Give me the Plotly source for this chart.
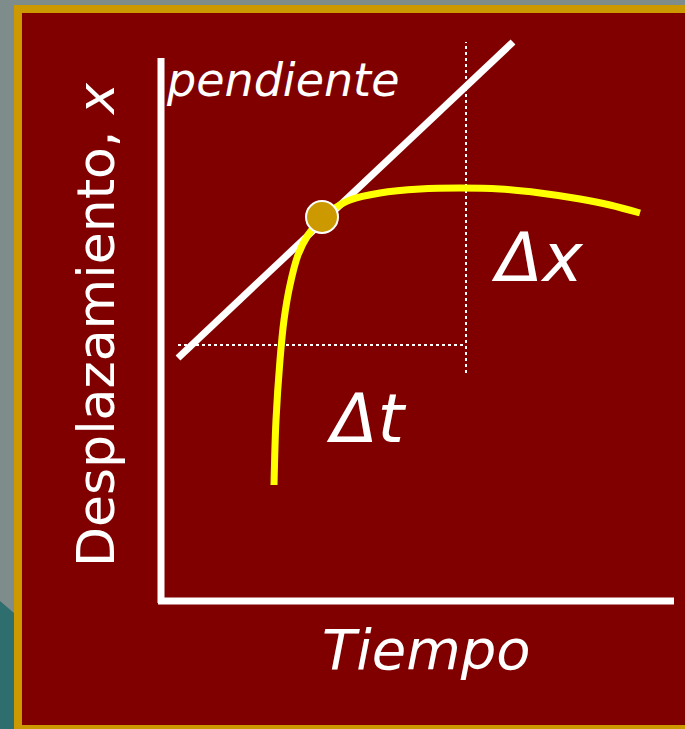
import plotly.graph_objects as go

# Data coordinates: time (t) on x, displacement (x) on y, origin at axes corner
curve_t = [2.26, 2.30, 2.38, 2.46, 2.58, 2.74, 2.94, 3.22, 3.48, 3.78, 4.38, 5.18, 5.98, 6.78, 7.58, 8.38, 8.98, 9.58]
curve_x = [2.32, 3.62, 4.82, 5.62, 6.32, 6.92, 7.32, 7.66, 7.86, 8.02, 8.16, 8.24, 8.26, 8.24, 8.16, 8.04, 7.92, 7.76]

tangent_t = [0.34, 7.04]
tangent_x = [4.86, 11.18]

point_t = [3.22]
point_x = [7.68]

dt_t = [0.34, 6.10]
dt_x = [5.12, 5.12]
dx_t = [6.10, 6.10]
dx_x = [4.56, 11.18]

axis_h_t = [-0.06, 10.26]
axis_h_x = [0.0, 0.0]
axis_v_t = [0.0, 0.0]
axis_v_x = [-0.04, 10.86]

RED = "#800000"
GOLD = "#CC9900"
YELLOW = "#FFFF00"
WHITE = "#FFFFFF"
FONT = "DejaVu Sans"

fig = go.Figure()

# axes
fig.add_trace(go.Scatter(x=axis_h_t, y=axis_h_x, mode="lines", line=dict(color=WHITE, width=7)))
fig.add_trace(go.Scatter(x=axis_v_t, y=axis_v_x, mode="lines", line=dict(color=WHITE, width=7)))
# dotted guides
fig.add_trace(go.Scatter(x=dt_t, y=dt_x, mode="lines", line=dict(color=WHITE, width=2, dash="dot")))
fig.add_trace(go.Scatter(x=dx_t, y=dx_x, mode="lines", line=dict(color=WHITE, width=2, dash="dot")))
# tangent
fig.add_trace(go.Scatter(x=tangent_t, y=tangent_x, mode="lines", line=dict(color=WHITE, width=7)))
# curve
fig.add_trace(go.Scatter(x=curve_t, y=curve_x, mode="lines", line=dict(color=YELLOW, width=7, shape="spline", smoothing=1.0)))
# point
fig.add_trace(go.Scatter(x=point_t, y=point_x, mode="markers",
                         marker=dict(size=32, color=GOLD, line=dict(color=WHITE, width=2))))

# background panels
shapes = [
    dict(type="rect", xref="paper", yref="paper", x0=0, x1=1, y0=0, y1=1, fillcolor="#7F8C8C", line_width=0, layer="below"),
    dict(type="path", xref="paper", yref="paper",
         path="M 0 0.1756 L 0.0204 0.1591 L 0.0204 0 L 0 0 Z", fillcolor="#2E6E6E", line_width=0, layer="below"),
    dict(type="rect", xref="paper", yref="paper", x0=0.0204, x1=1.01, y0=-0.01, y1=0.9931, fillcolor=GOLD, line_width=0, layer="below"),
    dict(type="rect", xref="paper", yref="paper", x0=0.0321, x1=1.01, y0=0.0055, y1=0.9822, fillcolor=RED, line_width=0, layer="below"),
]

annotations = [
    dict(x=0.06, y=10.42, text="<i>pendiente</i>", showarrow=False, xanchor="left", yanchor="middle",
         font=dict(family=FONT, size=46, color=WHITE)),
    dict(x=7.52, y=6.88, text="<i>Δx</i>", showarrow=False, xanchor="center", yanchor="middle",
         font=dict(family=FONT, size=68, color=WHITE)),
    dict(x=4.10, y=3.66, text="<i>Δt</i>", showarrow=False, xanchor="center", yanchor="middle",
         font=dict(family=FONT, size=68, color=WHITE)),
    dict(x=5.30, y=-0.96, text="<i>Tiempo</i>", showarrow=False, xanchor="center", yanchor="middle",
         font=dict(family=FONT, size=56, color=WHITE)),
    dict(x=-1.30, y=5.52, text="Desplazamiento, <i>x</i>", showarrow=False, xanchor="center", yanchor="middle",
         textangle=-90, font=dict(family=FONT, size=52, color=WHITE)),
]

fig.update_layout(
    width=685, height=729,
    margin=dict(l=0, r=0, t=0, b=0),
    paper_bgcolor="#7F8C8C", plot_bgcolor="rgba(0,0,0,0)",
    showlegend=False, hovermode=False,
    shapes=shapes, annotations=annotations,
    xaxis=dict(range=[-3.22, 10.48], visible=False, fixedrange=True),
    yaxis=dict(range=[-2.56, 12.02], visible=False, fixedrange=True),
)

fig.write_html(
    "out.html",
    config={"displayModeBar": False},
    post_script="document.body.style.margin='0';document.body.style.overflow='hidden';",
)
